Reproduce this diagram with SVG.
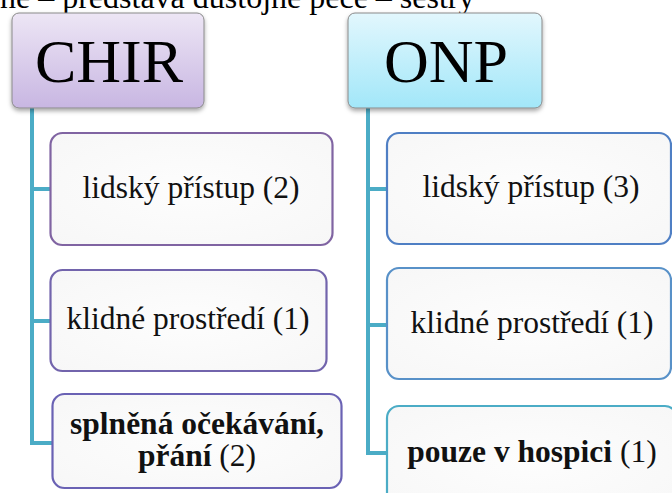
<svg xmlns="http://www.w3.org/2000/svg" width="672" height="493" viewBox="0 0 672 493">
  <style>
    text { font-family: "Liberation Serif", "Times New Roman", Times, serif; }
    .title { font-size: 32px; fill: #000; }
    .head { font-size: 62px; fill: #000; text-anchor: middle; }
    .item { font-size: 31.5px; fill: #111; text-anchor: middle; }
    .b { font-weight: bold; }
    .hbox { stroke: #8a8a8a; stroke-width: 1; filter: url(#shadow); }
    .cbox { fill: url(#itemFill); stroke-width: 2.2; }
    .conn { fill: none; stroke: #4bacc6; stroke-width: 4; stroke-linejoin: miter; }
  </style>
  <defs>
    <linearGradient id="gPurple" x1="0" y1="0" x2="0" y2="1">
      <stop offset="0" stop-color="#ede6f5"/>
      <stop offset="1" stop-color="#c8b6e2"/>
    </linearGradient>
    <linearGradient id="gCyan" x1="0" y1="0" x2="0" y2="1">
      <stop offset="0" stop-color="#e2f7fd"/>
      <stop offset="1" stop-color="#a2e7f9"/>
    </linearGradient>
    <radialGradient id="itemFill" cx="0.5" cy="0.5" r="0.7">
      <stop offset="0" stop-color="#fdfdfd"/>
      <stop offset="1" stop-color="#f7f7f7"/>
    </radialGradient>
    <filter id="shadow" x="-10%" y="-10%" width="120%" height="130%">
      <feDropShadow dx="0" dy="2.5" stdDeviation="2" flood-color="#000" flood-opacity="0.35"/>
    </filter>
  </defs>

  <rect width="672" height="493" fill="#ffffff"/>

  <!-- heading line, clipped by the top edge -->
  <text class="title" x="0" y="8">ne – představa důstojné péče – sestry</text>

  <!-- connectors -->
  <g id="connectors">
    <path class="conn" d="M32 108 V443 H53 M32 189 H51 M32 321 H51"/>
    <path class="conn" d="M368 108 V453 H388 M368 189 H388 M368 325 H388"/>
  </g>

  <!-- CHIR column -->
  <g id="chir">
    <rect class="hbox" x="12" y="13" width="192" height="95" rx="7" fill="url(#gPurple)"/>
    <text class="head" x="109" y="82">CHIR</text>
  </g>
  <g id="chir-1">
    <rect class="cbox" x="50.5" y="133" width="282" height="112" rx="12" stroke="#8064a2"/>
    <text class="item" x="191" y="198">lidský přístup (2)</text>
  </g>
  <g id="chir-2">
    <rect class="cbox" x="50.5" y="270" width="276" height="101" rx="12" stroke="#7264ac"/>
    <text class="item" x="188" y="329">klidné prostředí (1)</text>
  </g>
  <g id="chir-3">
    <rect class="cbox" x="52.5" y="394" width="289" height="94" rx="12" stroke="#6a62b4"/>
    <text class="item" x="197" y="434"><tspan class="b">splněná očekávání,</tspan></text>
    <text class="item" x="197" y="466"><tspan class="b">přání</tspan> (2)</text>
  </g>

  <!-- ONP column -->
  <g id="onp">
    <rect class="hbox" x="348" y="13" width="194" height="95" rx="7" fill="url(#gCyan)"/>
    <text class="head" x="446" y="82">ONP</text>
  </g>
  <g id="onp-1">
    <rect class="cbox" x="387" y="133" width="284" height="111" rx="12" stroke="#4f7fc4"/>
    <text class="item" x="531" y="197">lidský přístup (3)</text>
  </g>
  <g id="onp-2">
    <rect class="cbox" x="387" y="268" width="284" height="111" rx="12" stroke="#5891c8"/>
    <text class="item" x="532" y="333">klidné prostředí (1)</text>
  </g>
  <g id="onp-3">
    <rect class="cbox" x="387" y="406" width="290" height="110" rx="12" stroke="#4bacc6"/>
    <text class="item" x="532" y="462"><tspan class="b">pouze v hospici</tspan> (1)</text>
  </g>
</svg>
